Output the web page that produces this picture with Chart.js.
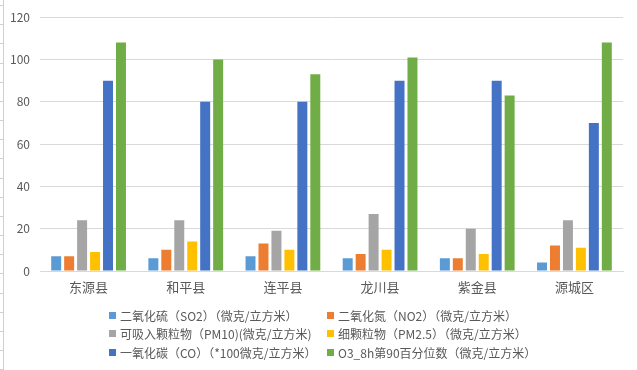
<!DOCTYPE html>
<html>
<head>
<meta charset="utf-8">
<script src="https://cdn.jsdelivr.net/npm/chart.js@4"></script>
<style>
  html, body { margin: 0; padding: 0; background: #fff; }
  #wrap { position: relative; width: 638px; height: 370px; overflow: hidden; }
  #sheetLeft { position: absolute; left: 3px; top: 0; width: 0; height: 370px; border-left: 1px solid #d0d0d0; }
  #sheetRows { position: absolute; left: 0; top: 5px; width: 3px; height: 365px;
    background: repeating-linear-gradient(to bottom, #d0d0d0 0, #d0d0d0 1px, transparent 1px, transparent 19.17px); }
  #sheetRight { position: absolute; left: 637px; top: 0; width: 0; height: 370px; border-left: 1px solid #d9d9d9; }
  #legend {
    position: absolute; left: 109px; top: 306px;
    display: grid; grid-template-columns: 218px auto; grid-auto-rows: 18.5px;
    font-family: "Noto Sans CJK SC", "Noto Sans", sans-serif; font-size: 12px; color: #595959;
  }
  .item { display: flex; align-items: center; white-space: nowrap; }
  .box { width: 7px; height: 7px; margin-right: 4px; flex: none; }
</style>
</head>
<body>
<div id="wrap">
  <canvas id="chartAir" width="638" height="370"></canvas>
  <div id="sheetLeft"></div>
  <div id="sheetRows"></div>
  <div id="sheetRight"></div>
  <div id="legend"></div>
</div>
<script>
  // data
  const counties = ["东源县", "和平县", "连平县", "龙川县", "紫金县", "源城区"];
  const so2  = [7, 6, 7, 6, 6, 4];
  const no2  = [7, 10, 13, 8, 6, 12];
  const pm10 = [24, 24, 19, 27, 20, 24];
  const pm25 = [9, 14, 10, 10, 8, 11];
  const co   = [90, 80, 80, 90, 90, 70];
  const o3   = [108, 100, 93, 101, 83, 108];
  const yTicks = [0, 20, 40, 60, 80, 100, 120];

  const seriesNames = [
    "二氧化硫（SO2）（微克/立方米）",
    "二氧化氮（NO2）（微克/立方米）",
    "可吸入颗粒物（PM10)(微克/立方米)",
    "细颗粒物（PM2.5）（微克/立方米）",
    "一氧化碳（CO）（*100微克/立方米）",
    "O3_8h第90百分位数（微克/立方米）"
  ];
  const colors = ["#5B9BD5", "#ED7D31", "#A5A5A5", "#FFC000", "#4472C4", "#70AD47"];
  const allData = [so2, no2, pm10, pm25, co, o3];

  const fontFam = '"Noto Sans CJK SC", "Noto Sans", sans-serif';

  const chartAir = new Chart(document.getElementById("chartAir"), {
    type: "bar",
    data: {
      labels: counties,
      datasets: allData.map((d, i) => ({
        label: seriesNames[i],
        data: d,
        backgroundColor: colors[i],
        borderWidth: 0,
        categoryPercentage: 0.8,
        barPercentage: 0.77
      }))
    },
    options: {
      responsive: false,
      animation: false,
      devicePixelRatio: 1,
      layout: { padding: { top: 13, right: 15, left: 0, bottom: 0 } },
      plugins: { legend: { display: false }, tooltip: { enabled: false } },
      scales: {
        x: {
          grid: { display: false, drawTicks: false },
          border: { display: true, color: "#D9D9D9" },
          ticks: { color: "#595959", font: { family: fontFam, size: 13 }, padding: 8 },
          afterFit: (scale) => { scale.height = 99; }
        },
        y: {
          min: 0, max: 120,
          afterBuildTicks: (scale) => { scale.ticks = yTicks.map(v => ({ value: v })); },
          grid: { color: "#D9D9D9", drawTicks: false },
          border: { display: false },
          ticks: { color: "#595959", font: { family: fontFam, size: 12 }, padding: 10 },
          afterFit: (scale) => { scale.width = 40; }
        }
      }
    }
  });

  // legend like excel, two columns
  const legend = document.getElementById("legend");
  chartAir.data.datasets.forEach((ds) => {
    const item = document.createElement("div");
    item.className = "item";
    item.innerHTML = '<span class="box" style="background:' + ds.backgroundColor + '"></span><span>' + ds.label + '</span>';
    legend.appendChild(item);
  });
</script>
</body>
</html>
